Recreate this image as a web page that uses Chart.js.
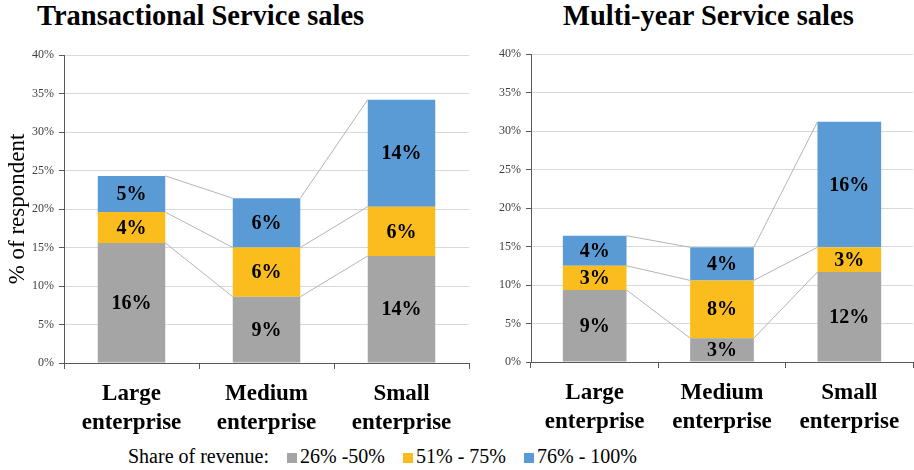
<!DOCTYPE html>
<html>
<head>
<meta charset="utf-8">
<script src="https://cdn.jsdelivr.net/npm/chart.js@4"></script>
<style>
    body { margin: 0; width: 914px; height: 470px; background: #fff; position: relative; overflow: hidden; font-family: "Liberation Serif", serif; }
    .title { position: absolute; top: 0; font-weight: bold; font-size: 28.5px; line-height: 32px; color: #000; white-space: nowrap; }
    .box { position: absolute; top: 0; height: 440px; }
    #legend { position: absolute; top: 444px; left: 128px; font-size: 20px; line-height: 24px; color: #000; white-space: nowrap; }
    #legend span.sw { display: inline-block; width: 10px; height: 10px; margin: 0 3px 0 0; }
    #legend span.item { margin-left: 18px; }
</style>
</head>
<body>
<div class="title" style="left:37px">Transactional Service sales</div>
<div class="title" style="left:563px">Multi-year Service sales</div>
<div class="box" style="left:0;width:472px"><canvas id="left-chart" width="472" height="440"></canvas></div>
<div class="box" style="left:460px;width:454px"><canvas id="right-chart" width="454" height="440"></canvas></div>
<div id="legend"></div>

<script>
// Data (% of respondents)
const categories = [['Large', 'enterprise'], ['Medium', 'enterprise'], ['Small', 'enterprise']];
const seriesNames = ['26% -50%', '51% - 75%', '76% - 100%'];
const seriesColors = ['#a5a5a5', '#fabd1d', '#5b9bd5'];

const transLow = [15.6, 8.6, 13.9];
const transMid = [4.0, 6.4, 6.4];
const transHigh = [4.7, 6.4, 13.9];

const multiLow = [9.35, 3.1, 11.7];
const multiMid = [3.15, 7.5, 3.2];
const multiHigh = [3.9, 4.3, 16.3];

const yTicks = [0, 5, 10, 15, 20, 25, 30, 35, 40];

const SERIF = 'Liberation Serif';
Chart.defaults.font.family = SERIF;

// connect segment tops between neighbouring bars, like Excel series lines
const seriesLines = {
    id: 'seriesLines',
    beforeDatasetsDraw(chart) {
        const ctx = chart.ctx;
        ctx.save();
        ctx.strokeStyle = '#b4b4b4';
        ctx.lineWidth = 1;
        chart.data.datasets.forEach((ds, di) => {
            const bars = chart.getDatasetMeta(di).data;
            for (let i = 0; i < bars.length - 1; i++) {
                const a = bars[i], b = bars[i + 1];
                ctx.beginPath();
                ctx.moveTo(a.x + a.width / 2, a.y);
                ctx.lineTo(b.x - b.width / 2, b.y);
                ctx.stroke();
            }
        });
        ctx.restore();
    }
};

const segmentLabels = {
    id: 'segmentLabels',
    afterDatasetsDraw(chart) {
        const ctx = chart.ctx;
        ctx.save();
        ctx.font = 'bold 20px ' + SERIF;
        ctx.fillStyle = '#000';
        ctx.textAlign = 'center';
        ctx.textBaseline = 'middle';
        chart.data.datasets.forEach((ds, di) => {
            chart.getDatasetMeta(di).data.forEach((bar, i) => {
                ctx.fillText(Math.round(ds.data[i]) + '%', bar.x, (bar.y + bar.base) / 2 + 1);
            });
        });
        ctx.restore();
    }
};

function makeChart(id, series, opts) {
    const ctx = document.getElementById(id).getContext('2d');
    return new Chart(ctx, {
        type: 'bar',
        data: {
            labels: categories,
            datasets: series.map((d, i) => ({
                label: seriesNames[i],
                data: d,
                backgroundColor: seriesColors[i],
                borderWidth: 0,
                barPercentage: 0.5,
                categoryPercentage: 1
            }))
        },
        options: {
            responsive: false,
            animation: false,
            layout: { padding: { top: opts.top, right: opts.right, left: 0, bottom: 0 } },
            plugins: {
                legend: { display: false },
                tooltip: { enabled: false }
            },
            scales: {
                x: {
                    stacked: true,
                    afterFit: s => { s.height = opts.xHeight; },
                    border: { color: '#595959', width: 1 },
                    grid: {
                        offset: true,
                        drawOnChartArea: false,
                        drawTicks: true,
                        tickLength: 6,
                        tickColor: '#595959'
                    },
                    ticks: {
                        color: '#000',
                        padding: 10,
                        font: { family: SERIF, size: 23, weight: 'bold', lineHeight: 1.27 }
                    }
                },
                y: {
                    stacked: true,
                    min: 0,
                    max: 40,
                    afterFit: s => { s.width = opts.yWidth; },
                    afterBuildTicks: s => { s.ticks = yTicks.map(v => ({ value: v })); },
                    border: { color: '#595959', width: 1 },
                    grid: {
                        color: '#d9d9d9',
                        tickColor: '#595959',
                        tickLength: 5
                    },
                    ticks: {
                        color: '#404040',
                        padding: 5,
                        font: { family: SERIF, size: 12 },
                        callback: v => v + '%'
                    },
                    title: {
                        display: opts.yTitle,
                        text: '% of respondent',
                        color: '#000',
                        padding: { top: 4, bottom: 0 },
                        font: { family: SERIF, size: 23 }
                    }
                }
            }
        },
        plugins: [seriesLines, segmentLabels]
    });
}

// legend
const legend = document.getElementById('legend');
legend.innerHTML = 'Share of revenue:' + seriesNames.map((n, i) =>
    `<span class="item"><span class="sw" style="background:${seriesColors[i]}"></span>${n}</span>`
).join('');

Promise.all([
    document.fonts.load('12px "' + SERIF + '"'),
    document.fonts.load('bold 23px "' + SERIF + '"')
]).catch(() => {}).then(() => {
    makeChart('left-chart', [transLow, transMid, transHigh],
        { top: 55, right: 3, xHeight: 77, yWidth: 64, yTitle: true });
    makeChart('right-chart', [multiLow, multiMid, multiHigh],
        { top: 54, right: 1, xHeight: 78, yWidth: 71, yTitle: false });
});
</script>
</body>
</html>
